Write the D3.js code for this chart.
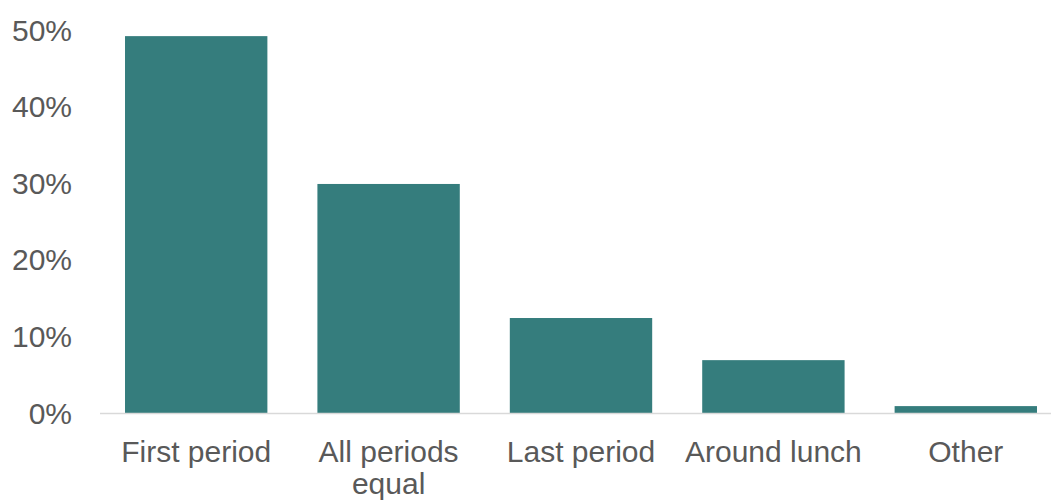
<!DOCTYPE html>
<html>
<head>
<meta charset="utf-8">
<script src="https://cdn.jsdelivr.net/npm/d3@7"></script>
<style>
  body { margin: 0; background: #fff; }
  text { font-family: "Liberation Sans", Arial, sans-serif; fill: #595959; }
</style>
</head>
<body>
<svg id="chart" width="1051" height="501"></svg>
<script>
// chart data
const categories = ['First period', 'All periods equal', 'Last period', 'Around lunch', 'Other'];
const labelLines = [['First period'], ['All periods', 'equal'], ['Last period'], ['Around lunch'], ['Other']];
const values = [49.2, 29.9, 12.4, 6.9, 0.9];
const yTicks = [0, 10, 20, 30, 40, 50];

const svg = d3.select('#chart');

// plot area (the right edge runs past the window, as in the source image)
const x = d3.scaleBand()
    .domain(categories)
    .range([100, 1062])
    .paddingInner(0.26)
    .paddingOuter(0.13);

const y = d3.scaleLinear()
    .domain([0, 50])
    .range([413, 30]);

// y labels
svg.append('g')
    .selectAll('text')
    .data(yTicks)
    .join('text')
    .attr('x', 72)
    .attr('y', d => y(d))
    .attr('dy', '0.35em')
    .attr('text-anchor', 'end')
    .style('font-size', '30px')
    .text(d => d + '%');

// bars
svg.append('g')
    .selectAll('rect')
    .data(values)
    .join('rect')
    .attr('x', (d, i) => x(categories[i]))
    .attr('y', d => y(d))
    .attr('width', x.bandwidth())
    .attr('height', d => y(0) - y(d))
    .attr('fill', '#357d7d');

// baseline
svg.append('line')
    .attr('x1', x.range()[0])
    .attr('x2', x.range()[1])
    .attr('y1', y(0) + 0.5)
    .attr('y2', y(0) + 0.5)
    .attr('stroke', '#d9d9d9')
    .attr('stroke-width', 1.5);

// x labels, wrapped like the original
const xLabels = svg.append('g')
    .selectAll('text')
    .data(categories)
    .join('text')
    .attr('x', d => x(d) + x.bandwidth() / 2)
    .attr('y', 462)
    .attr('text-anchor', 'middle')
    .style('font-size', '30px');

xLabels.selectAll('tspan')
    .data((d, i) => labelLines[i])
    .join('tspan')
    .attr('x', function () { return this.parentNode.getAttribute('x'); })
    .attr('dy', (d, i) => i === 0 ? 0 : 32)
    .text(d => d);
</script>
</body>
</html>
